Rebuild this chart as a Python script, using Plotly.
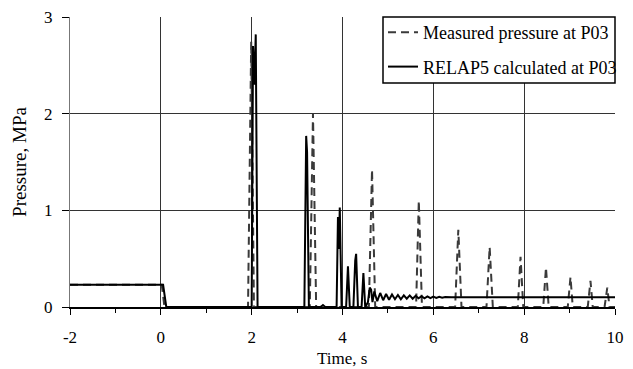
import plotly.graph_objects as go

# Measured pressure at P03 (dashed)
meas_t = [-2.0, 0.02, 0.08, 1.92, 1.99, 2.05, 3.28, 3.35, 3.42, 3.52, 3.57, 3.62,
          4.58, 4.65, 4.72, 5.62, 5.68, 5.75, 6.48, 6.55, 6.62, 7.17, 7.24, 7.31,
          7.86, 7.92, 7.98, 8.42, 8.48, 8.54, 8.96, 9.02, 9.07, 9.40, 9.46, 9.51,
          9.77, 9.83, 9.88, 10.0]
meas_p = [0.23, 0.23, 0.0, 0.0, 2.75, 0.0, 0.0, 2.0, 0.0, 0.0, 0.02, 0.0,
          0.0, 1.42, 0.0, 0.0, 1.1, 0.0, 0.0, 0.8, 0.0, 0.0, 0.62, 0.0,
          0.0, 0.52, 0.0, 0.0, 0.41, 0.0, 0.0, 0.31, 0.0, 0.0, 0.27, 0.0,
          0.0, 0.2, 0.0, 0.0]

# RELAP5 calculated at P03 (solid)
calc_t = [-2.0, 0.05, 0.12, 2.0, 2.03, 2.06, 2.09, 2.13, 3.16, 3.2, 3.22, 3.26,
          3.52, 3.57, 3.62, 3.87, 3.9, 3.92, 3.94, 3.98, 4.08, 4.12, 4.16,
          4.24, 4.28, 4.30, 4.34, 4.42, 4.46, 4.5, 4.56, 4.6, 4.63, 4.66,
          4.70, 4.765, 4.83, 4.895, 4.96, 5.025, 5.09, 5.155, 5.22, 5.285,
          5.35, 5.415, 5.48, 5.545, 5.61, 5.675, 5.74, 5.805, 5.87, 5.935,
          6.0, 6.065, 6.13, 6.195, 6.26, 6.4, 10.0]
calc_p = [0.23, 0.23, 0.0, 0.0, 2.7, 2.3, 2.82, 0.0, 0.0, 1.77, 1.6, 0.0,
          0.0, 0.02, 0.0, 0.0, 0.93, 0.6, 1.03, 0.0, 0.0, 0.42, 0.0,
          0.0, 0.48, 0.55, 0.0, 0.0, 0.35, 0.0, 0.05, 0.2, 0.18, 0.05,
          0.16, 0.06, 0.145, 0.07, 0.135, 0.075, 0.13, 0.08, 0.125, 0.08,
          0.12, 0.085, 0.12, 0.085, 0.115, 0.09, 0.112, 0.09, 0.11, 0.092,
          0.108, 0.094, 0.105, 0.096, 0.103, 0.1, 0.1]

x_ticks = [-2, 0, 2, 4, 6, 8, 10]
y_ticks = [0, 1, 2, 3]
x_title = "Time, s"
y_title = "Pressure, MPa"

FONT = "Liberation Serif, Times New Roman, serif"
W, H = 633, 369
ML, MR, MT, MB = 70, 18, 17, 62
PW, PH = W - ML - MR, H - MT - MB

fig = go.Figure()
fig.add_trace(go.Scatter(x=meas_t, y=meas_p, mode="lines", name="Measured pressure at P03",
                         line=dict(color="#3a3a3a", width=2, dash="8px,5px"),
                         legendgroup="a"))
fig.add_trace(go.Scatter(x=calc_t, y=calc_p, mode="lines", name="RELAP5 calculated at P03",
                         line=dict(color="black", width=2), legendgroup="b"))

# legend frame (pixel box 383..615 x 17..83), white fill hides gridlines
fig.add_shape(type="rect", xref="paper", yref="paper",
              x0=(383 - ML) / PW, x1=1.0,
              y0=1 - (83 - MT) / PH, y1=1.0,
              line=dict(color="black", width=1.5), fillcolor="white", layer="above")

# x-axis title placed as annotation
fig.add_annotation(text=x_title, xref="paper", yref="paper",
                   x=(342 - ML) / PW, y=-(358 - (H - MB)) / PH,
                   xanchor="center", yanchor="middle", showarrow=False,
                   font=dict(family=FONT, size=17, color="black"))

fig.update_layout(
    width=W, height=H,
    margin=dict(l=ML, r=MR, t=MT, b=MB, autoexpand=False),
    paper_bgcolor="white", plot_bgcolor="white",
    font=dict(family=FONT, size=17, color="black"),
    legend=dict(x=(383 - ML) / PW, xanchor="left", y=1 + 3 / PH, yanchor="top",
                bgcolor="rgba(0,0,0,0)", borderwidth=0,
                font=dict(family=FONT, size=18), tracegroupgap=8,
                itemwidth=30),
    xaxis=dict(range=[-2, 10], tickvals=x_ticks, ticktext=[str(v) for v in x_ticks],
               showgrid=True, gridcolor="#333", gridwidth=1,
               zeroline=False, showline=True, linecolor="black", linewidth=2,
               ticks="outside", ticklen=6, tickcolor="black", tickwidth=1,
               minor=dict(dtick=1, tick0=-1, ticks="outside", ticklen=4, tickcolor="black", showgrid=False),
               ticklabelstandoff=8,
               tickfont=dict(family=FONT, size=17)),
    yaxis=dict(range=[0, 3], tickvals=y_ticks,
               showgrid=True, gridcolor="#333", gridwidth=1,
               zeroline=False, showline=True, linecolor="#777", linewidth=1,
               ticks="outside", ticklen=7, tickcolor="black",
               ticklabelstandoff=6,
               title=dict(text=y_title, font=dict(family=FONT, size=19), standoff=12),
               tickfont=dict(family=FONT, size=17)),
)

fig.write_html("out.html", config={"displayModeBar": False},
               post_script="document.body.style.margin='0';")
